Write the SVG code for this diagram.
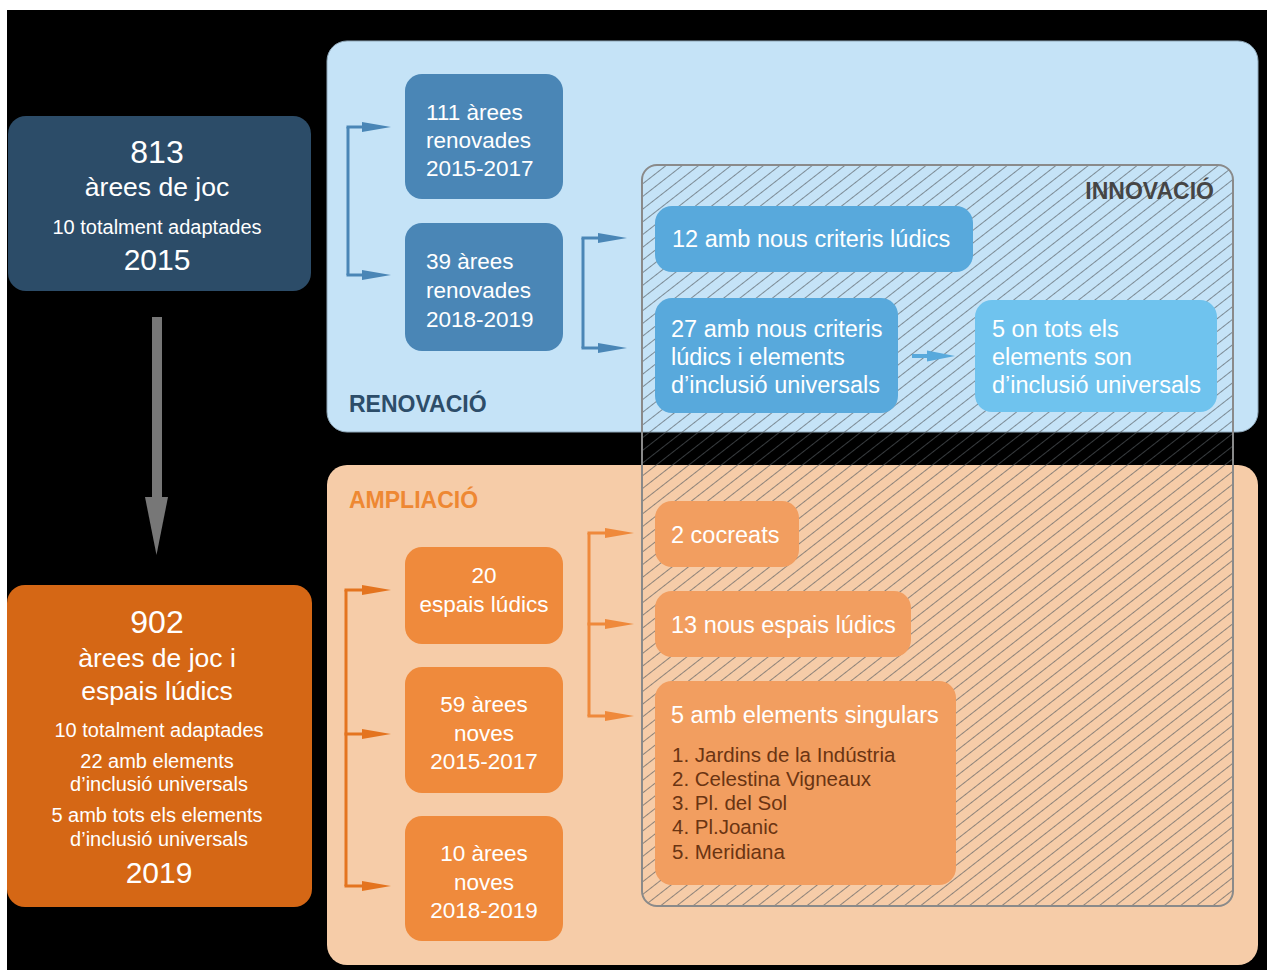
<svg xmlns="http://www.w3.org/2000/svg" width="1267" height="970" viewBox="0 0 1267 970">
<style>
text{font-family:"Liberation Sans",Arial,sans-serif;}
.w{fill:#ffffff;}
.lbl{font-weight:bold;font-size:23px;}
.nt{font-size:22.5px;fill:#ffffff;}
.it{font-size:23.5px;fill:#ffffff;}
.li{font-size:20.5px;fill:#6a3412;}
.blueLine{stroke:#4a86b6;stroke-width:3;fill:none;}
.orLineA{stroke:#e4741f;stroke-width:3;fill:none;}
.orLineB{stroke:#ef893b;stroke-width:3;fill:none;}
</style>
<defs>
<pattern id="hatch" patternUnits="userSpaceOnUse" width="10" height="10" patternTransform="rotate(52)">
<line x1="0" y1="-1" x2="0" y2="11" stroke="#555a60" stroke-width="1.3"/>
</pattern>
<marker id="ahB" markerUnits="userSpaceOnUse" markerWidth="30" markerHeight="10" refX="2" refY="5" orient="auto"><path d="M0,0 L29,5 L0,10 z" fill="#4a86b6"/></marker>
<marker id="ahOA" markerUnits="userSpaceOnUse" markerWidth="30" markerHeight="10" refX="2" refY="5" orient="auto"><path d="M0,0 L29,5 L0,10 z" fill="#e4741f"/></marker>
<marker id="ahOB" markerUnits="userSpaceOnUse" markerWidth="30" markerHeight="10" refX="2" refY="5" orient="auto"><path d="M0,0 L29,5 L0,10 z" fill="#ef893b"/></marker>
</defs>

<rect x="0" y="0" width="1267" height="970" fill="#ffffff"/>
<rect x="7" y="10" width="1260" height="960" fill="#000000"/>

<g id="renovacio">
<rect x="327" y="41" width="931" height="391" rx="20" fill="#c5e3f7" stroke="#8fa7b8" stroke-width="1"/>
<text x="349" y="412" class="lbl" fill="#2d4d69">RENOVACIÓ</text>
</g>
<g id="ampliacio">
<rect x="327" y="465" width="931" height="500" rx="20" fill="#f6cca8"/>
<text x="349" y="508" class="lbl" fill="#ee8833">AMPLIACIÓ</text>
</g>

<g id="innovacio">
<rect x="642" y="165" width="591" height="741" rx="15" fill="url(#hatch)" stroke="#8a8a8a" stroke-width="2"/>
<text x="1214" y="199" class="lbl" fill="#454545" text-anchor="end">INNOVACIÓ</text>
</g>

<g id="connectors">
<rect x="152" y="317" width="10" height="181" fill="#777777"/>
<polygon points="145,497 168,497 156.5,555" fill="#777777"/>
<path class="blueLine" d="M348 127 V275"/>
<path class="blueLine" d="M346.5 127 H364" marker-end="url(#ahB)"/>
<path class="blueLine" d="M346.5 275 H364" marker-end="url(#ahB)"/>
<path class="blueLine" d="M583 238 V348"/>
<path class="blueLine" d="M581.5 238 H600" marker-end="url(#ahB)"/>
<path class="blueLine" d="M581.5 348 H600" marker-end="url(#ahB)"/>
<path class="orLineA" d="M346 590 V886"/>
<path class="orLineA" d="M344.5 590 H364" marker-end="url(#ahOA)"/>
<path class="orLineA" d="M344.5 734 H364" marker-end="url(#ahOA)"/>
<path class="orLineA" d="M344.5 886 H364" marker-end="url(#ahOA)"/>
<path class="orLineB" d="M589 533 V716"/>
<path class="orLineB" d="M587.5 533 H607" marker-end="url(#ahOB)"/>
<path class="orLineB" d="M587.5 624 H607" marker-end="url(#ahOB)"/>
<path class="orLineB" d="M587.5 716 H607" marker-end="url(#ahOB)"/>
<rect x="912" y="354" width="16" height="4" fill="#58a9dc"/>
<polygon points="927,350.5 955,356 927,361.5" fill="#58a9dc"/>
</g>

<g id="n2015">
<rect x="8" y="116" width="303" height="175" rx="18" fill="#2c4c68"/>
<text x="157" y="163" class="w" font-size="32" text-anchor="middle">813</text>
<text x="157" y="196" class="w" font-size="26.5" text-anchor="middle">àrees de joc</text>
<text x="157" y="234" class="w" font-size="20" text-anchor="middle">10 totalment adaptades</text>
<text x="157" y="270" class="w" font-size="30" text-anchor="middle">2015</text>
</g>

<g id="n2019">
<rect x="7" y="585" width="305" height="322" rx="18" fill="#d56715"/>
<text x="157" y="633" class="w" font-size="32" text-anchor="middle">902</text>
<text x="157" y="667" class="w" font-size="26.5" text-anchor="middle">àrees de joc i</text>
<text x="157" y="700" class="w" font-size="26.5" text-anchor="middle">espais lúdics</text>
<text x="159" y="737" class="w" font-size="20" text-anchor="middle">10 totalment adaptades</text>
<text x="157" y="768" class="w" font-size="20" text-anchor="middle">22 amb elements</text>
<text x="159" y="791" class="w" font-size="20" text-anchor="middle">d’inclusió universals</text>
<text x="157" y="822" class="w" font-size="20" text-anchor="middle">5 amb tots els elements</text>
<text x="159" y="846" class="w" font-size="20" text-anchor="middle">d’inclusió universals</text>
<text x="159" y="883" class="w" font-size="30" text-anchor="middle">2019</text>
</g>

<g id="r111">
<rect x="405" y="74" width="158" height="125" rx="17" fill="#4a86b6"/>
<text class="nt" x="426" y="120">111 àrees</text>
<text class="nt" x="426" y="148">renovades</text>
<text class="nt" x="426" y="176">2015-2017</text>
</g>
<g id="r39">
<rect x="405" y="223" width="158" height="128" rx="17" fill="#4a86b6"/>
<text class="nt" x="426" y="269">39 àrees</text>
<text class="nt" x="426" y="298">renovades</text>
<text class="nt" x="426" y="327">2018-2019</text>
</g>

<g id="i12">
<rect x="655" y="206" width="318" height="66" rx="17" fill="#58a9dc"/>
<text class="it" x="672" y="247">12 amb nous criteris lúdics</text>
</g>
<g id="i27">
<rect x="655" y="298" width="243" height="115" rx="17" fill="#58a9dc"/>
<text class="it" x="671" y="337">27 amb nous criteris</text>
<text class="it" x="671" y="365">lúdics i elements</text>
<text class="it" x="671" y="393">d’inclusió universals</text>
</g>
<g id="i5">
<rect x="975" y="300" width="242" height="112" rx="17" fill="#6fc3ee"/>
<text class="it" x="992" y="337">5 on tots els</text>
<text class="it" x="992" y="365">elements son</text>
<text class="it" x="992" y="393">d’inclusió universals</text>
</g>

<g id="a20">
<rect x="405" y="547" width="158" height="97" rx="17" fill="#ef8a3c"/>
<text class="nt" x="484" y="583" text-anchor="middle">20</text>
<text class="nt" x="484" y="612" text-anchor="middle">espais lúdics</text>
</g>
<g id="a59">
<rect x="405" y="667" width="158" height="126" rx="17" fill="#ef8a3c"/>
<text class="nt" x="484" y="712" text-anchor="middle">59 àrees</text>
<text class="nt" x="484" y="741" text-anchor="middle">noves</text>
<text class="nt" x="484" y="769" text-anchor="middle">2015-2017</text>
</g>
<g id="a10">
<rect x="405" y="816" width="158" height="125" rx="17" fill="#ef8a3c"/>
<text class="nt" x="484" y="861" text-anchor="middle">10 àrees</text>
<text class="nt" x="484" y="890" text-anchor="middle">noves</text>
<text class="nt" x="484" y="918" text-anchor="middle">2018-2019</text>
</g>

<g id="c2">
<rect x="655" y="501" width="144" height="66" rx="17" fill="#f29e60"/>
<text class="it" x="671" y="543">2 cocreats</text>
</g>
<g id="c13">
<rect x="655" y="591" width="256" height="66" rx="17" fill="#f29e60"/>
<text class="it" x="671" y="633">13 nous espais lúdics</text>
</g>
<g id="c5">
<rect x="655" y="681" width="301" height="204" rx="17" fill="#f29e60"/>
<text class="it" x="671" y="723">5 amb elements singulars</text>
<text class="li" x="672" y="762">1. Jardins de la Indústria</text>
<text class="li" x="672" y="786">2. Celestina Vigneaux</text>
<text class="li" x="672" y="810">3. Pl. del Sol</text>
<text class="li" x="672" y="834">4. Pl.Joanic</text>
<text class="li" x="672" y="859">5. Meridiana</text>
</g>
</svg>
